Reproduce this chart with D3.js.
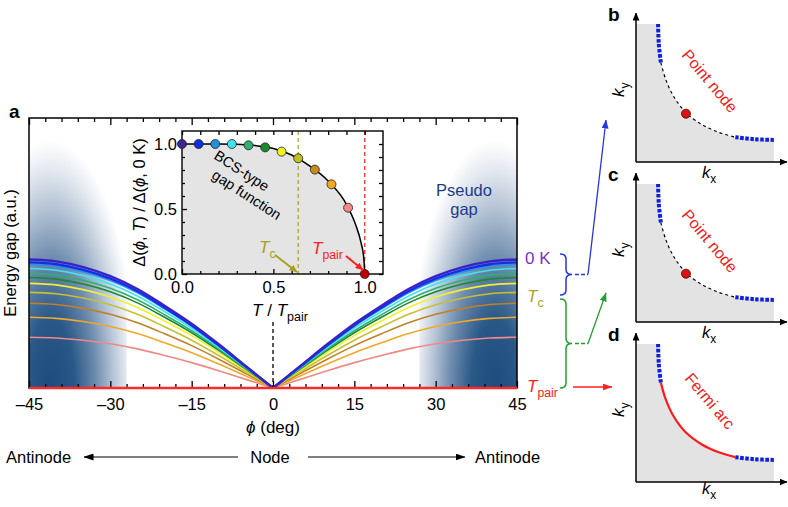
<!DOCTYPE html>
<html><head><meta charset="utf-8">
<script src="https://cdn.jsdelivr.net/npm/d3@7"></script>
<style>body{margin:0;background:#fff}svg{display:block;font-family:"Liberation Sans",Arial,Helvetica,sans-serif}</style>
</head><body><svg id="c" width="788" height="507"></svg>
<script>
// ---------------- data ----------------
const phiMajorTicks = [-45, -30, -15, 0, 15, 30, 45];
const phiShape = [0, 5, 10, 15, 20, 25, 30, 35, 40, 45];
const gapShape = [0, 0.17, 0.34, 0.5, 0.64, 0.77, 0.87, 0.94, 0.985, 1.0];
const tempRatio = [0, 0.091, 0.182, 0.273, 0.364, 0.455, 0.545, 0.636, 0.727, 0.818, 0.909, 1.0];
const gapRatio = [1.0, 1.0, 1.0, 1.0, 0.99, 0.974, 0.941, 0.89, 0.803, 0.69, 0.51, 0];
const curvePeak = [1.0, 0.977, 0.961, 0.93, 0.891, 0.86, 0.814, 0.744, 0.659, 0.55, 0.395, 0];
const bcsT = [0, 0.1, 0.2, 0.3, 0.4, 0.5, 0.6, 0.7, 0.8, 0.9, 0.95, 0.98, 0.995, 1.0];
const bcsGap = [1, 1, 1, 0.999, 0.988, 0.965, 0.915, 0.83, 0.715, 0.535, 0.38, 0.24, 0.12, 0];
const tcRatio = 0.636;
const insetTicks = [0, 0.5, 1.0];
const fsKx = [0.16, 0.165, 0.18, 0.215, 0.27, 0.36, 0.48, 0.60, 0.72, 0.86, 1.0];
const fsKy = [1.0, 0.86, 0.72, 0.60, 0.48, 0.36, 0.27, 0.215, 0.18, 0.165, 0.16];
const nodeK = [0.362, 0.35];
const panelLetters = ['b', 'c', 'd'];
const panelTexts = ['Point node', 'Point node', 'Fermi arc'];
const tempColors = ['#4a1f8e', '#1030e0', '#2090e0', '#40e4f0', '#30b070', '#1a8a2a',
  '#f0f020', '#c0c020', '#c88a20', '#f0a820', '#f08888', '#c00000'];
const lineColors = ['#3a22c8', '#1030e8', '#2a90e8', '#40e4f0', '#30b070', '#1a8a2a',
  '#f0f030', '#c8c030', '#c08028', '#f0a828', '#f08888', '#ff2a2a'];

// ---------------- setup ----------------
const svg = d3.select('#c');
const defs = svg.append('defs');
function marker(id, color, w, h) {
  defs.append('marker').attr('id', id).attr('markerUnits', 'userSpaceOnUse')
    .attr('markerWidth', w).attr('markerHeight', h).attr('refX', w - 0.5).attr('refY', h / 2)
    .attr('orient', 'auto').append('path').attr('d', `M0,0L${w},${h / 2}L0,${h}Z`).attr('fill', color);
}
marker('mBlack', '#000', 10, 7);
marker('mAxis', '#000', 8, 7);
marker('mBlue', '#2535e0', 9, 7);
marker('mGreen', '#22a030', 9, 7);
marker('mRed', '#ff2020', 10, 7);
marker('mOlive', '#a8a020', 8, 7);
marker('mRed2', '#ff2020', 8, 7);

function subText(g, x, y, main, sub, opts) {
  const t = g.append('text').attr('x', x).attr('y', y)
    .attr('font-size', opts.size).attr('fill', opts.color || '#000')
    .attr('text-anchor', opts.anchor || 'start');
  if (opts.rotate) t.attr('transform', `rotate(${opts.rotate},${x},${y})`);
  t.append('tspan').attr('font-style', 'italic').text(main);
  t.append('tspan').attr('font-size', opts.size * 0.72).attr('dy', opts.size * 0.3).text(sub);
  return t;
}

// ---------------- main panel a ----------------
const mL = 29, mR = 517, mT = 118, mB = 388;
const x = d3.scaleLinear().domain([-45, 45]).range([mL, mR]);
const y = d3.scaleLinear().domain([0, 2.1]).range([mB, mT]);

function grad(id, cx) {
  const g = defs.append('radialGradient').attr('id', id).attr('gradientUnits', 'userSpaceOnUse')
    .attr('cx', 0).attr('cy', 0).attr('r', 1)
    .attr('gradientTransform', `translate(${cx},${mB}) scale(86,248)`);
  [[0, '#1c4b7d'], [0.28, '#2a5988'], [0.52, '#6d8bad'], [0.72, '#b3c2d4'], [0.88, '#e4e9f0'], [1, '#ffffff']]
    .forEach(s => g.append('stop').attr('offset', s[0]).attr('stop-color', s[1]));
}
grad('gL', x(-41)); grad('gR', x(41));
svg.append('rect').attr('x', x(-45)).attr('y', mT).attr('width', x(-27) - x(-45)).attr('height', mB - mT).attr('fill', 'url(#gL)');
svg.append('rect').attr('x', x(27)).attr('y', mT).attr('width', x(45) - x(27)).attr('height', mB - mT).attr('fill', 'url(#gR)');

defs.append('clipPath').attr('id', 'clipMain').append('rect')
  .attr('x', mL).attr('y', mT).attr('width', mR - mL).attr('height', mB - mT);
const curves = svg.append('g').attr('clip-path', 'url(#clipMain)');
const lineR = d3.line().x((d, i) => x(phiShape[i])).curve(d3.curveMonotoneX);
const lineL = d3.line().x((d, i) => x(-phiShape[phiShape.length - 1 - i])).curve(d3.curveMonotoneX);
for (let k = curvePeak.length - 2; k >= 0; k--) {
  const vals = gapShape.map(s => s * curvePeak[k]);
  const sw = k <= 1 ? 2.4 : 1.6;
  curves.append('path').attr('d', lineR.y(d => y(d))(vals)).attr('fill', 'none')
    .attr('stroke', lineColors[k]).attr('stroke-width', sw);
  curves.append('path').attr('d', lineL.y(d => y(d))(vals.slice().reverse())).attr('fill', 'none')
    .attr('stroke', lineColors[k]).attr('stroke-width', sw);
}
// node dashed line
svg.append('line').attr('x1', x(0)).attr('x2', x(0)).attr('y1', 322).attr('y2', mB)
  .attr('stroke', '#000').attr('stroke-width', 1.3).attr('stroke-dasharray', '4,3');

// frame
svg.append('rect').attr('x', mL).attr('y', mT).attr('width', mR - mL).attr('height', mB - mT)
  .attr('fill', 'none').attr('stroke', '#000').attr('stroke-width', 1.5);

const minorPhi = d3.range(-45, 46, 3).filter(v => v % 15 !== 0);
function styleAxis(g) { g.select('.domain').remove(); g.selectAll('line').attr('stroke-width', 1.3); }
svg.append('g').attr('transform', `translate(0,${mB})`)
  .call(d3.axisBottom(x).tickValues(phiMajorTicks).tickSize(-7).tickPadding(10)
    .tickFormat(d => d < 0 ? '\u2013' + Math.abs(d) : d))
  .call(styleAxis).call(g => g.selectAll('text').attr('font-size', 16.5).attr('font-family', 'Liberation Sans, Arial'));
svg.append('g').attr('transform', `translate(0,${mB})`)
  .call(d3.axisBottom(x).tickValues(minorPhi).tickSize(-4).tickFormat('')).call(styleAxis);
svg.append('g').attr('transform', `translate(0,${mT})`)
  .call(d3.axisTop(x).tickValues(phiMajorTicks).tickSize(-7).tickFormat('')).call(styleAxis);
svg.append('g').attr('transform', `translate(0,${mT})`)
  .call(d3.axisTop(x).tickValues(minorPhi).tickSize(-4).tickFormat('')).call(styleAxis);

// red T_pair baseline
svg.append('path').attr('d', d3.line()([[x(-45), y(curvePeak[11])], [x(45), y(curvePeak[11])]]))
  .attr('stroke', lineColors[11]).attr('stroke-width', 2.6);

// labels
svg.append('text').attr('x', 9).attr('y', 118).attr('font-size', 19).attr('font-weight', 'bold').text('a');
svg.append('text').attr('transform', `translate(16,${(mT + mB) / 2}) rotate(-90)`)
  .attr('text-anchor', 'middle').attr('font-size', 16.5).text('Energy gap (a.u.)');
const xl = svg.append('text').attr('x', x(0)).attr('y', 433).attr('text-anchor', 'middle').attr('font-size', 17);
xl.append('tspan').attr('font-style', 'italic').text('\u03D5');
xl.append('tspan').text(' (deg)');
svg.append('text').attr('x', 464).attr('y', 196).attr('text-anchor', 'middle').attr('font-size', 16.5).attr('fill', '#1d3a8a').text('Pseudo');
svg.append('text').attr('x', 464).attr('y', 215).attr('text-anchor', 'middle').attr('font-size', 16.5).attr('fill', '#1d3a8a').text('gap');

// bottom row
svg.append('text').attr('x', 6).attr('y', 463).attr('font-size', 16.5).text('Antinode');
svg.append('text').attr('x', x(0) - 3).attr('y', 463).attr('text-anchor', 'middle').attr('font-size', 16.5).text('Node');
svg.append('text').attr('x', 475).attr('y', 463).attr('font-size', 16.5).text('Antinode');
svg.append('line').attr('x1', 238).attr('x2', 84).attr('y1', 457).attr('y2', 457).attr('stroke', '#000').attr('stroke-width', 1.2).attr('marker-end', 'url(#mBlack)');
svg.append('line').attr('x1', 308).attr('x2', 465).attr('y1', 457).attr('y2', 457).attr('stroke', '#000').attr('stroke-width', 1.2).attr('marker-end', 'url(#mBlack)');

// ---------------- inset ----------------
const iL = 182, iR = 383, iT = 131, iB = 274;
const ix = d3.scaleLinear().domain([0, 1.1]).range([iL, iR]);
const iy = d3.scaleLinear().domain([0, 1.1]).range([iB, iT]);
svg.append('rect').attr('x', iL).attr('y', iT).attr('width', iR - iL).attr('height', iB - iT).attr('fill', '#fff');
const bcsPts = bcsT.map((t, i) => [t, bcsGap[i]]);
svg.append('path').datum(bcsPts)
  .attr('d', d3.area().x(d => ix(d[0])).y0(iB).y1(d => iy(d[1])).curve(d3.curveMonotoneX))
  .attr('fill', '#e4e4e4');
svg.append('line').attr('x1', ix(tcRatio)).attr('x2', ix(tcRatio)).attr('y1', iT).attr('y2', iB)
  .attr('stroke', '#a8a020').attr('stroke-width', 1.2).attr('stroke-dasharray', '4,3');
svg.append('line').attr('x1', ix(1)).attr('x2', ix(1)).attr('y1', iT).attr('y2', iB)
  .attr('stroke', '#ff2020').attr('stroke-width', 1.2).attr('stroke-dasharray', '4,3');
svg.append('path').datum(bcsPts)
  .attr('d', d3.line().x(d => ix(d[0])).y(d => iy(d[1])).curve(d3.curveMonotoneX))
  .attr('fill', 'none').attr('stroke', '#000').attr('stroke-width', 1.5);
svg.append('rect').attr('x', iL).attr('y', iT).attr('width', iR - iL).attr('height', iB - iT)
  .attr('fill', 'none').attr('stroke', '#000').attr('stroke-width', 1.4);
const minorI = d3.range(0, 11).map(v => v / 10).filter(v => v !== 0 && v !== 0.5 && v !== 1);
const fmt = d3.format('.1f');
svg.append('g').attr('transform', `translate(0,${iB})`)
  .call(d3.axisBottom(ix).tickValues(insetTicks).tickSize(-5).tickPadding(7).tickFormat(fmt)).call(styleAxis)
  .call(g => g.selectAll('text').attr('font-size', 16.5).attr('font-family', 'Liberation Sans, Arial'));
svg.append('g').attr('transform', `translate(0,${iB})`)
  .call(d3.axisBottom(ix).tickValues(minorI).tickSize(-3).tickFormat('')).call(styleAxis);
svg.append('g').attr('transform', `translate(0,${iT})`)
  .call(d3.axisTop(ix).tickValues(d3.range(0, 11).map(v => v / 10)).tickSize(-4).tickFormat('')).call(styleAxis);
svg.append('g').attr('transform', `translate(${iL},0)`)
  .call(d3.axisLeft(iy).tickValues(insetTicks).tickSize(-5).tickPadding(5).tickFormat(fmt)).call(styleAxis)
  .call(g => g.selectAll('text').attr('font-size', 16.5).attr('font-family', 'Liberation Sans, Arial'));
svg.append('g').attr('transform', `translate(${iL},0)`)
  .call(d3.axisLeft(iy).tickValues(minorI).tickSize(-3).tickFormat('')).call(styleAxis);
svg.append('g').attr('transform', `translate(${iR},0)`)
  .call(d3.axisRight(iy).tickValues(d3.range(0, 11).map(v => v / 10)).tickSize(-4).tickFormat('')).call(styleAxis);

svg.append('g').selectAll('circle').data(tempRatio).join('circle')
  .attr('cx', d => ix(d)).attr('cy', (d, i) => iy(gapRatio[i])).attr('r', 4.5)
  .attr('fill', (d, i) => tempColors[i]).attr('stroke', '#222').attr('stroke-width', 0.8);

// inset labels
const yl = svg.append('text').attr('transform', `translate(145,${(iT + iB) / 2}) rotate(-90)`)
  .attr('text-anchor', 'middle').attr('font-size', 16.5);
yl.append('tspan').text('\u0394(');
yl.append('tspan').attr('font-style', 'italic').text('\u03D5');
yl.append('tspan').text(', ');
yl.append('tspan').attr('font-style', 'italic').text('T');
yl.append('tspan').text(') / \u0394(');
yl.append('tspan').attr('font-style', 'italic').text('\u03D5');
yl.append('tspan').text(', 0 K)');
const tl = svg.append('text').attr('x', 280).attr('y', 316).attr('text-anchor', 'middle').attr('font-size', 17);
tl.append('tspan').attr('font-style', 'italic').text('T');
tl.append('tspan').text(' / ');
tl.append('tspan').attr('font-style', 'italic').text('T');
tl.append('tspan').attr('font-size', 12.5).attr('dy', 5).text('pair');

svg.append('text').attr('transform', 'translate(239,175) rotate(33)').attr('text-anchor', 'middle').attr('font-size', 14.5).text('BCS-type');
svg.append('text').attr('transform', 'translate(244,199) rotate(33)').attr('text-anchor', 'middle').attr('font-size', 14.5).text('gap function');
subText(svg, 259, 253, 'T', 'c', { size: 17, color: '#a8a020' });
svg.append('line').attr('x1', 275).attr('y1', 255).attr('x2', 297).attr('y2', 272)
  .attr('stroke', '#a8a020').attr('stroke-width', 2).attr('marker-end', 'url(#mOlive)');
subText(svg, 312, 254, 'T', 'pair', { size: 17, color: '#ff2020' });
svg.append('line').attr('x1', 346).attr('y1', 256).attr('x2', 363).attr('y2', 270)
  .attr('stroke', '#ff2020').attr('stroke-width', 2).attr('marker-end', 'url(#mRed2)');

// ---------------- right-side labels and braces ----------------
svg.append('text').attr('x', 525).attr('y', 264).attr('font-size', 17).attr('fill', '#7a30c8').text('0 K');
subText(svg, 527, 302, 'T', 'c', { size: 17, color: '#a8a030' });
subText(svg, 527, 392, 'T', 'pair', { size: 17, color: '#ff2020' });

function brace(x0, y0, y1, w) {
  const ym = (y0 + y1) / 2, h = w / 2, r = 5;
  return `M${x0},${y0}Q${x0 + h},${y0} ${x0 + h},${y0 + r}L${x0 + h},${ym - r}Q${x0 + h},${ym} ${x0 + w},${ym}` +
    `Q${x0 + h},${ym} ${x0 + h},${ym + r}L${x0 + h},${y1 - r}Q${x0 + h},${y1} ${x0},${y1}`;
}
svg.append('path').attr('d', brace(560, 254, 295, 12)).attr('fill', 'none').attr('stroke', '#2535e0').attr('stroke-width', 1.5);
svg.append('line').attr('x1', 575).attr('x2', 588).attr('y1', 274.5).attr('y2', 274.5).attr('stroke', '#2535e0').attr('stroke-width', 1.3).attr('stroke-dasharray', '4,2');
svg.append('line').attr('x1', 588).attr('y1', 274.5).attr('x2', 606).attr('y2', 120).attr('stroke', '#2535e0').attr('stroke-width', 1.3).attr('marker-end', 'url(#mBlue)');
svg.append('path').attr('d', brace(560, 299, 388, 12)).attr('fill', 'none').attr('stroke', '#22a030').attr('stroke-width', 1.5);
svg.append('line').attr('x1', 575).attr('x2', 588).attr('y1', 343.5).attr('y2', 343.5).attr('stroke', '#22a030').attr('stroke-width', 1.3).attr('stroke-dasharray', '4,2');
svg.append('line').attr('x1', 588).attr('y1', 343.5).attr('x2', 606).attr('y2', 293).attr('stroke', '#22a030').attr('stroke-width', 1.3).attr('marker-end', 'url(#mGreen)');
svg.append('line').attr('x1', 573).attr('x2', 612).attr('y1', 387).attr('y2', 387).attr('stroke', '#ff2020').attr('stroke-width', 1.5).attr('marker-end', 'url(#mRed)');

// ---------------- panels b, c, d ----------------
panelLetters.forEach((letter, p) => {
  const oy = 160 * p;
  const g = svg.append('g');
  const kx = d3.scaleLinear().domain([0, 1]).range([636, 774]);
  const ky = d3.scaleLinear().domain([0, 1]).range([162 + oy, 24 + oy]);
  const fs = fsKx.map((v, i) => [v, fsKy[i]]);
  g.append('path').attr('d', d3.line().x(d => kx(d[0])).y(d => ky(d[1]))([[0, 0], [0, 1]]) +
    d3.line().x(d => kx(d[0])).y(d => ky(d[1])).curve(d3.curveCatmullRom)(fs).replace(/^M/, 'L') + `L${kx(1)},${ky(0)}Z`)
    .attr('fill', '#e3e3e3');
  const fsLine = d3.line().x(d => kx(d[0])).y(d => ky(d[1])).curve(d3.curveCatmullRom);
  const mid = fs.slice(2, 9);
  if (p < 2) {
    g.append('path').attr('d', fsLine(mid)).attr('fill', 'none').attr('stroke', '#000').attr('stroke-width', 1.2).attr('stroke-dasharray', '3,3');
  } else {
    g.append('path').attr('d', fsLine(mid)).attr('fill', 'none').attr('stroke', '#ff1a1a').attr('stroke-width', 2.2);
  }
  g.append('path').attr('d', fsLine(fs.slice(0, 3))).attr('fill', 'none').attr('stroke', '#1020e0').attr('stroke-width', 4).attr('stroke-dasharray', '3.5,1.5');
  g.append('path').attr('d', fsLine(fs.slice(8))).attr('fill', 'none').attr('stroke', '#1020e0').attr('stroke-width', 4).attr('stroke-dasharray', '3.5,1.5');
  if (p < 2) {
    g.append('circle').attr('cx', kx(nodeK[0])).attr('cy', ky(nodeK[1])).attr('r', 4.5)
      .attr('fill', '#e01010').attr('stroke', '#400').attr('stroke-width', 0.8);
  }
  g.append('line').attr('x1', 636).attr('x2', 636).attr('y1', 162 + oy).attr('y2', 13 + oy)
    .attr('stroke', '#000').attr('stroke-width', 1.5).attr('marker-end', 'url(#mAxis)');
  g.append('line').attr('x1', 636).attr('x2', 787).attr('y1', 162 + oy).attr('y2', 162 + oy)
    .attr('stroke', '#000').attr('stroke-width', 1.5).attr('marker-end', 'url(#mAxis)');
  g.append('text').attr('x', 608).attr('y', 21 + oy).attr('font-size', 19).attr('font-weight', 'bold').text(letter);
  g.append('text').attr('transform', `translate(710,${81 + oy}) rotate(50)`).attr('text-anchor', 'middle')
    .attr('dy', '0.35em').attr('font-size', 16).attr('fill', '#ee2020').text(panelTexts[p]);
  subText(g, 624, 97 + oy, 'k', 'y', { size: 17, rotate: -90 });
  subText(g, 702, p === 2 ? 494 : 178 + oy, 'k', 'x', { size: 16.5 });
});
</script>
</body></html>
